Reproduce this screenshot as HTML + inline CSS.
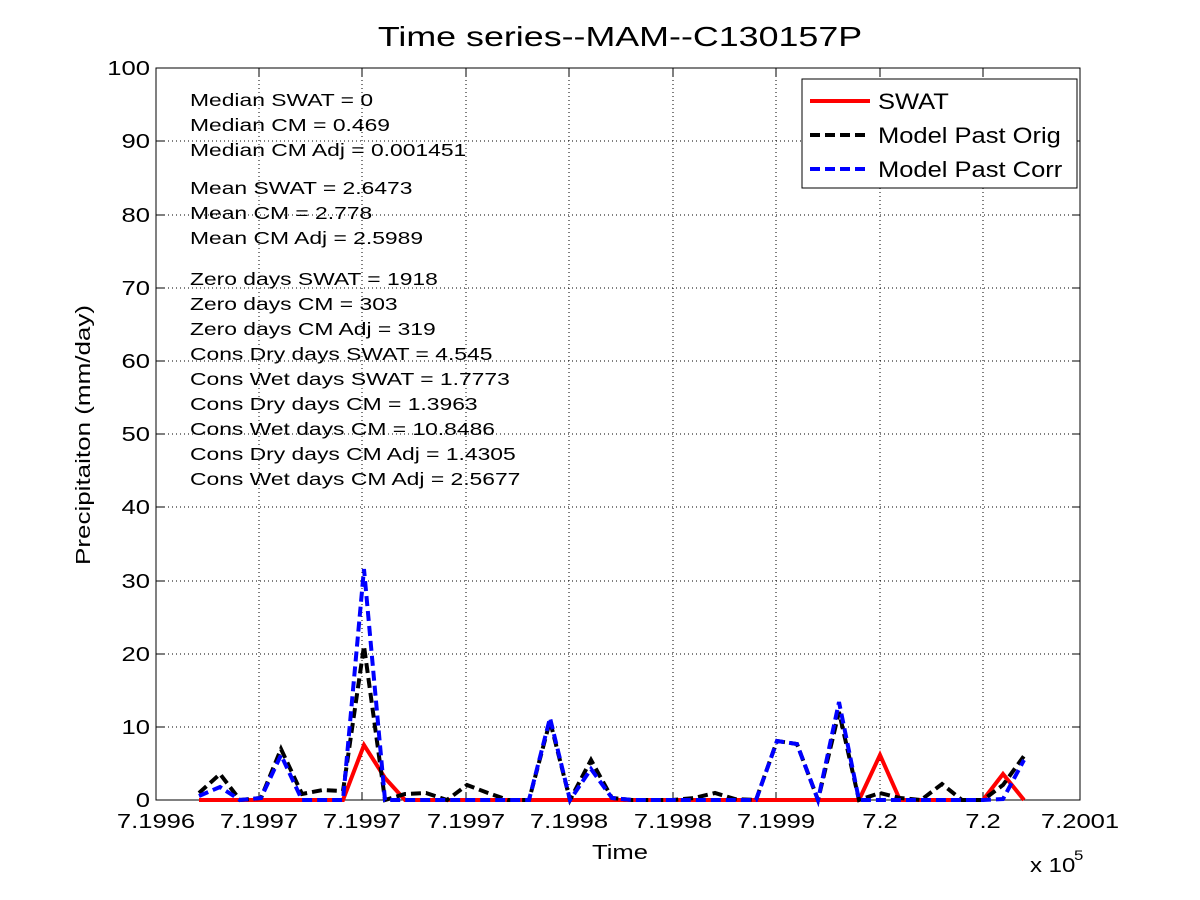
<!DOCTYPE html>
<html><head><style>body{margin:0;background:#fff}svg{display:block}text{font-family:"Liberation Sans",Arial,sans-serif;fill:#000}</style></head>
<body>
<svg width="1200" height="900" viewBox="0 0 1200 900" xmlns="http://www.w3.org/2000/svg">
<rect width="1200" height="900" fill="#fff"/>
<text transform="translate(620 46) scale(1.28 1)" font-size="28" text-anchor="middle">Time series--MAM--C130157P</text>
<g stroke="#000" stroke-width="1" stroke-dasharray="1,3">
<line x1="259" y1="68" x2="259" y2="800"/><line x1="362" y1="68" x2="362" y2="800"/><line x1="466" y1="68" x2="466" y2="800"/><line x1="569" y1="68" x2="569" y2="800"/><line x1="673" y1="68" x2="673" y2="800"/><line x1="776" y1="68" x2="776" y2="800"/><line x1="880" y1="68" x2="880" y2="800"/><line x1="983" y1="68" x2="983" y2="800"/>
<line x1="156" y1="727" x2="1080" y2="727"/><line x1="156" y1="654" x2="1080" y2="654"/><line x1="156" y1="581" x2="1080" y2="581"/><line x1="156" y1="507" x2="1080" y2="507"/><line x1="156" y1="434" x2="1080" y2="434"/><line x1="156" y1="361" x2="1080" y2="361"/><line x1="156" y1="288" x2="1080" y2="288"/><line x1="156" y1="215" x2="1080" y2="215"/><line x1="156" y1="141" x2="1080" y2="141"/>
</g>
<rect x="156" y="68" width="924" height="732" fill="none" stroke="#000" stroke-width="1"/>
<g stroke="#000"><path d="M156 727h8M156 654h8M156 581h8M156 507h8M156 434h8M156 361h8M156 288h8M156 215h8M156 141h8M1080 727h-8M1080 654h-8M1080 581h-8M1080 507h-8M1080 434h-8M1080 361h-8M1080 288h-8M1080 215h-8M1080 141h-8M259 800v-8M362 800v-8M466 800v-8M569 800v-8M673 800v-8M776 800v-8M880 800v-8M983 800v-8M259 68v8M362 68v8M466 68v8M569 68v8M673 68v8M776 68v8M880 68v8M983 68v8"/></g>
<g font-size="20" text-anchor="end">
<text transform="translate(150 807) scale(1.28 1)">0</text><text transform="translate(150 734) scale(1.28 1)">10</text><text transform="translate(150 661) scale(1.28 1)">20</text><text transform="translate(150 588) scale(1.28 1)">30</text><text transform="translate(150 514) scale(1.28 1)">40</text><text transform="translate(150 441) scale(1.28 1)">50</text><text transform="translate(150 368) scale(1.28 1)">60</text><text transform="translate(150 295) scale(1.28 1)">70</text><text transform="translate(150 222) scale(1.28 1)">80</text><text transform="translate(150 148) scale(1.28 1)">90</text><text transform="translate(150 75) scale(1.28 1)">100</text>
</g>
<g font-size="20" text-anchor="middle">
<text transform="translate(156 828) scale(1.28 1)">7.1996</text><text transform="translate(259 828) scale(1.28 1)">7.1997</text><text transform="translate(362 828) scale(1.28 1)">7.1997</text><text transform="translate(466 828) scale(1.28 1)">7.1997</text><text transform="translate(569 828) scale(1.28 1)">7.1998</text><text transform="translate(673 828) scale(1.28 1)">7.1998</text><text transform="translate(776 828) scale(1.28 1)">7.1999</text><text transform="translate(880 828) scale(1.28 1)">7.2</text><text transform="translate(983 828) scale(1.28 1)">7.2</text><text transform="translate(1080 828) scale(1.28 1)">7.2001</text>
<text transform="translate(620 859) scale(1.28 1)">Time</text>
</g>
<text transform="translate(1030 872) scale(1.2 1)" font-size="20">x 10</text><text transform="translate(1074 860) scale(1.2 1)" font-size="14">5</text>
<text transform="translate(90 435) rotate(-90) scale(1.3 1)" font-size="20" text-anchor="middle">Precipitaiton (mm/day)</text>
<g font-size="18" transform="translate(190 0) scale(1.27 1) translate(-190 0)">
<text x="190" y="106">Median SWAT = 0</text><text x="190" y="131">Median CM = 0.469</text><text x="190" y="156">Median CM Adj = 0.001451</text>
<text x="190" y="194">Mean SWAT = 2.6473</text><text x="190" y="219">Mean CM = 2.778</text><text x="190" y="244">Mean CM Adj = 2.5989</text>
<text x="190" y="285">Zero days SWAT = 1918</text><text x="190" y="310">Zero days CM = 303</text><text x="190" y="335">Zero days CM Adj = 319</text><text x="190" y="360">Cons Dry days SWAT = 4.545</text><text x="190" y="385">Cons Wet days SWAT = 1.7773</text><text x="190" y="410">Cons Dry days CM = 1.3963</text><text x="190" y="435">Cons Wet days CM = 10.8486</text><text x="190" y="460">Cons Dry days CM Adj = 1.4305</text><text x="190" y="485">Cons Wet days CM Adj = 2.5677</text>
</g>
<polyline fill="none" stroke="#f00" stroke-width="4" points="199,800 343,800 364,745 385,778 405,800 859,800 880,755 900,800 983,800 1003,774 1024,800"/>
<polyline fill="none" stroke="#000" stroke-width="4" stroke-dasharray="10,5" points="199,793 220,774 240,800 261,798 281,749 302,794 323,790 343,791 364,646 385,800 405,794 426,793 447,800 467,785 488,793 508,800 529,800 550,721 570,800 591,760 612,798 632,800 653,800 673,800 694,798 715,793 735,799 756,800 777,741 797,744 818,800 839,712 859,800 880,793 900,798 921,800 942,784 962,800 983,800 1003,785 1024,756"/>
<polyline fill="none" stroke="#00f" stroke-width="4" stroke-dasharray="10,5" points="199,796 220,787 240,800 261,798 281,755 302,800 323,800 343,800 364,569 385,800 405,800 426,800 447,800 467,800 488,800 508,800 529,800 550,718 570,800 591,769 612,798 632,800 653,800 673,800 694,800 715,800 735,800 756,800 777,741 797,744 818,800 839,702 859,800 880,800 900,800 921,800 942,800 983,800 1003,799 1024,760"/>
<rect x="802" y="79" width="275" height="109" fill="#fff" stroke="#000"/>
<line x1="810" y1="101" x2="870" y2="101" stroke="#f00" stroke-width="4"/>
<line x1="810" y1="135" x2="870" y2="135" stroke="#000" stroke-width="4" stroke-dasharray="10,5"/>
<line x1="810" y1="169" x2="870" y2="169" stroke="#00f" stroke-width="4" stroke-dasharray="10,5"/>
<g font-size="22" transform="translate(878 0) scale(1.16 1) translate(-878 0)"><text x="878" y="109">SWAT</text><text x="878" y="143">Model Past Orig</text><text x="878" y="177">Model Past Corr</text></g>
</svg>
</body></html>
